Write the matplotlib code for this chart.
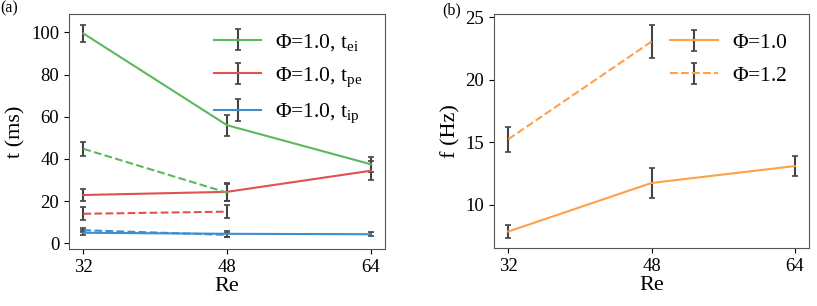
import numpy as np
import matplotlib
matplotlib.use("Agg")
import matplotlib.pyplot as plt

plt.rcParams['font.family'] = ['Liberation Serif', 'DejaVu Serif']
plt.rcParams['mathtext.fontset'] = 'custom'
plt.rcParams['mathtext.rm'] = 'Liberation Serif'
plt.rcParams['mathtext.it'] = 'Liberation Serif'

# data
re = [32, 48, 64]
re2 = [32, 48]

tei_10 = [99.5, 56.0, 37.5]
tei_10_err = [4.1, 5.0, 3.6]
tei_12 = [44.8, 24.0]
tei_12_err = [3.4, 4.0]

tpe_10 = [22.9, 24.4, 34.4]
tpe_10_err = [3.0, 4.2, 4.6]
tpe_12 = [14.0, 15.0]
tpe_12_err = [3.0, 3.2]

tip_10 = [5.0, 4.5, 4.3]
tip_10_err = [1.2, 1.3, 1.0]
tip_12 = [6.2, 4.0]
tip_12_err = [1.0, 1.0]

f_10 = [7.87, 11.75, 13.1]
f_10_err = [0.55, 1.2, 0.8]
f_12 = [15.25, 23.05]
f_12_err = [1.0, 1.3]

green = '#5cb85c'
red = '#e05252'
blue = '#3d8ecf'
orange = '#ffa04a'
ecol = '#444444'

fig = plt.figure(figsize=(8.17, 3.06), dpi=100)
ax1 = fig.add_axes([0.0845, 0.1863, 0.3868, 0.7677])
ax2 = fig.add_axes([0.6047, 0.1895, 0.3856, 0.7645])

kw = dict(ecolor=ecol, elinewidth=1.5, capsize=2.5, capthick=1.2, lw=1.5)

ax1.errorbar(re, tei_10, yerr=tei_10_err, color=green, label=r'$\Phi$=1.0, t$_{\rm ei}$', **kw)
ax1.errorbar(re, tpe_10, yerr=tpe_10_err, color=red, label=r'$\Phi$=1.0, t$_{\rm pe}$', **kw)
ax1.errorbar(re, tip_10, yerr=tip_10_err, color=blue, label=r'$\Phi$=1.0, t$_{\rm ip}$', **kw)
ax1.errorbar(re2, tei_12, yerr=tei_12_err, color=green, ls='--', **kw)
ax1.errorbar(re2, tpe_12, yerr=tpe_12_err, color=red, ls='--', **kw)
ax1.errorbar(re2, tip_12, yerr=tip_12_err, color=blue, ls='--', **kw)

ax1.set_xticks(re)
ax1.set_xlim(30.4, 65.6)
ax1.set_ylim(-2.7, 108.7)
ax1.set_yticks([0, 20, 40, 60, 80, 100])
ax1.set_xlabel('Re', fontsize=16, labelpad=1)
ax1.set_ylabel('t (ms)', fontsize=16, labelpad=4)
ax1.legend(loc='upper right', bbox_to_anchor=(0.956, 0.962), frameon=False,
           fontsize=15.5, handlelength=2.2, labelspacing=0.6, borderaxespad=0,
           handletextpad=0.65)

ax2.errorbar(re, f_10, yerr=f_10_err, color=orange, label=r'$\Phi$=1.0', **kw)
ax2.errorbar(re2, f_12, yerr=f_12_err, color=orange, ls='--', label=r'$\Phi$=1.2', **kw)
ax2.set_xticks(re)
ax2.set_xlim(30.4, 65.6)
ax2.set_ylim(6.55, 25.25)
ax2.set_yticks([10, 15, 20, 25])
ax2.set_xlabel('Re', fontsize=16, labelpad=1)
ax2.set_ylabel('f (Hz)', fontsize=16, labelpad=4)
ax2.legend(loc='upper right', bbox_to_anchor=(0.959, 0.957), frameon=False,
           fontsize=15.5, handlelength=2.2, labelspacing=0.6, borderaxespad=0,
           handletextpad=0.65)

for ax in (ax1, ax2):
    ax.tick_params(labelsize=13.5)
    for s in ax.spines.values():
        s.set_color('#555555')

fig.text(0.0, 0.998, '(a)', fontsize=11.5, va='top', ha='left')
fig.text(0.541, 0.992, '(b)', fontsize=11.5, va='top', ha='left')

fig.savefig('out.png', dpi=100)
